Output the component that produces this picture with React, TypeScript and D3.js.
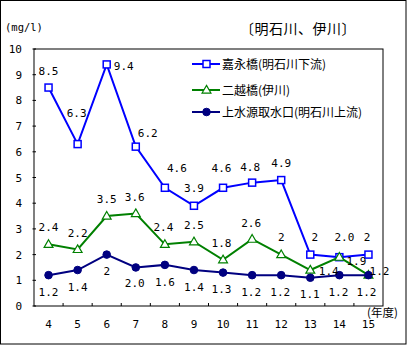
import React from "react";
import * as d3 from "d3";

const years = ["4", "5", "6", "7", "8", "9", "10", "11", "12", "13", "14", "15"];
const kaeiValues = [8.5, 6.3, 9.4, 6.2, 4.6, 3.9, 4.6, 4.8, 4.9, 2, 1.9, 2];
const kaeiLabels = ["8.5", "6.3", "9.4", "6.2", "4.6", "3.9", "4.6", "4.8", "4.9", "2", "2.0", "2"];
const futagoeValues = [2.4, 2.2, 3.5, 3.6, 2.4, 2.5, 1.8, 2.6, 2, 1.4, 1.9, 1.2];
const futagoeLabels = ["2.4", "2.2", "3.5", "3.6", "2.4", "2.5", "1.8", "2.6", "2", "1.4", "1.9", "1.2"];
const josuiValues = [1.2, 1.4, 2, 1.5, 1.6, 1.4, 1.3, 1.2, 1.2, 1.1, 1.2, 1.2];
const josuiLabels = ["1.2", "1.4", "2", "2.0", "1.6", "1.4", "1.3", "1.2", "1.2", "1.1", "1.2", "1.2"];
const seriesNames = ["嘉永橋(明石川下流)", "二越橋(伊川)", "上水源取水口(明石川上流)"];
const yTicks = [0, 1, 2, 3, 4, 5, 6, 7, 8, 9, 10];

// label placement offsets (layout only)
const kaeiOffsets: [number, number][] = [[0, -16.5], [-1, -31], [17, 1.5], [12, -14], [12, -20], [0, -18], [-1.5, -20], [-2, -16], [0, -17], [4.5, -17.6], [5, -20], [-1.5, -17.6]];
const futagoeOffsets: [number, number][] = [[0, -17], [0, -16.5], [0, -17], [-1, -16.5], [-1.5, -17], [0, -17], [-1.5, -17], [-1, -16], [0, -17.6], [18.5, 1], [17, 4], [11, -4]];
const josuiOffsets: [number, number][] = [[0, 17], [0, 17], [0, 16.5], [-1, 15.5], [0, 17], [0, 17], [-1.5, 16.5], [-1, 17], [-1, 17], [-0.5, 16.5], [-1, 17], [-2, 17]];

const W = 407, H = 345;
const L = 34, R = 383, T = 49, B = 306;
const numFont = "'DejaVu Sans Mono', 'Liberation Mono', monospace";
const jpFont = "'Noto Sans CJK JP', sans-serif";

export default function App() {
  const x = d3.scaleBand<string>().domain(years).range([L, R]).padding(0);
  const y = d3.scaleLinear().domain([0, 10]).range([B, T]);
  const cx = (d: string) => (x(d) as number) + x.bandwidth() / 2;
  const line = d3.line<number>().x((_, i) => cx(years[i])).y((v) => y(v));

  const series = [
    { values: kaeiValues, labels: kaeiLabels, offsets: kaeiOffsets, color: "#0000FF", marker: "square" },
    { values: futagoeValues, labels: futagoeLabels, offsets: futagoeOffsets, color: "#008000", marker: "triangle" },
    { values: josuiValues, labels: josuiLabels, offsets: josuiOffsets, color: "#000080", marker: "circle" },
  ];

  const marker = (type: string, color: string, px: number, py: number, key: any) => {
    if (type === "square") {
      return <rect key={key} x={px - 3.5} y={py - 3.5} width={7} height={7} fill="white" stroke={color} strokeWidth={1.5} />;
    }
    if (type === "triangle") {
      const tri = d3.symbol().type(d3.symbolTriangle).size(34)();
      return <path key={key} d={tri as string} transform={`translate(${px},${py + 0.5})`} fill="white" stroke={color} strokeWidth={1.2} />;
    }
    return <circle key={key} cx={px} cy={py} r={3.8} fill={color} stroke={color} strokeWidth={1} />;
  };

  const boundaries = years.slice(1).map((d) => x(d) as number);

  return (
    <svg width={W} height={H} style={{ position: "absolute", left: 0, top: 0, background: "white" }}>
      <rect x={0.5} y={0.5} width={W - 1.5} height={H - 1.5} fill="white" stroke="black" strokeWidth={1} />
      <text x={5} y={31} fontFamily={numFont} fontSize={10.5} fill="black">(mg/l)</text>
      <text x={240} y={34} fontFamily={jpFont} fontSize={14} letterSpacing={0.5} fill="black">〔明石川、伊川〕</text>

      {/* plot frame */}
      <rect x={L} y={T} width={R - L} height={B - T} fill="white" stroke="black" strokeWidth={1} />

      {/* y axis ticks & labels */}
      {yTicks.map((t) => (
        <g key={"yt" + t}>
          <line x1={L - 1.5} x2={L + 2} y1={y(t)} y2={y(t)} stroke="black" />
          <text x={22} y={y(t) + 4} textAnchor="end" fontFamily={numFont} fontSize={11} fill="black">{t}</text>
        </g>
      ))}
      {/* x axis ticks & labels */}
      {boundaries.map((b, i) => (
        <line key={"xt" + i} x1={b} x2={b} y1={B} y2={B - 3} stroke="black" />
      ))}
      {years.map((d) => (
        <text key={"xl" + d} x={cx(d)} y={328} textAnchor="middle" fontFamily={numFont} fontSize={11} fill="black">{d}</text>
      ))}
      <text x={367} y={317} fontFamily={jpFont} fontSize={11.5} fill="black">(年度)</text>

      {/* series */}
      {series.map((s, si) => (
        <g key={"s" + si}>
          <path d={line(s.values) as string} fill="none" stroke={s.color} strokeWidth={2} />
          {s.values.map((v, i) => marker(s.marker, s.color, cx(years[i]), y(v), "m" + i))}
        </g>
      ))}
      {series.map((s, si) => (
        <g key={"lab" + si}>
          {s.values.map((v, i) => (
            <text key={"t" + i} x={cx(years[i]) + s.offsets[i][0]} y={y(v) + s.offsets[i][1] + 4} textAnchor="middle" fontFamily={numFont} fontSize={11} fill="black">{s.labels[i]}</text>
          ))}
        </g>
      ))}

      {/* legend */}
      {series.map((s, si) => {
        const ly = [64, 90, 112][si];
        return (
          <g key={"lg" + si}>
            <line x1={192} x2={220} y1={ly} y2={ly} stroke={s.color} strokeWidth={2} />
            {marker(s.marker, s.color, 206.5, ly, "lm" + si)}
            <text x={222} y={ly + 5} fontFamily={jpFont} fontSize={12} fill="black">{seriesNames[si]}</text>
          </g>
        );
      })}
    </svg>
  );
}
